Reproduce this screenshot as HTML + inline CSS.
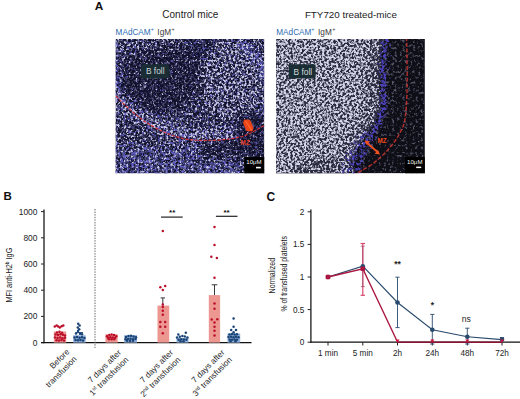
<!DOCTYPE html>
<html><head><meta charset="utf-8"><style>
html,body{margin:0;padding:0;background:#fff;width:520px;height:399px;overflow:hidden}
svg{display:block}
text{font-family:"Liberation Sans",sans-serif}
</style></head><body>
<svg width="520" height="399" viewBox="0 0 520 399">
<defs>
  <filter id="spkL" filterUnits="userSpaceOnUse" x="100" y="25" width="180" height="165" color-interpolation-filters="sRGB">
    <feGaussianBlur in="SourceGraphic" stdDeviation="3" result="d"/>
    <feTurbulence type="fractalNoise" baseFrequency="0.45" numOctaves="3" seed="3" result="n"/>
    <feColorMatrix in="n" type="matrix" values="1 0 0 0 0  1 0 0 0 0  1 0 0 0 0  0 0 0 0 1" result="ng"/>
    <feComposite in="ng" in2="d" operator="arithmetic" k1="0" k2="5" k3="5" k4="-5" result="c"/>
    <feColorMatrix in="c" type="matrix" values="0 0 0 0 0.78  0 0 0 0 0.78  0 0 0 0 0.9  1 0 0 0 0"/>
    <feGaussianBlur stdDeviation="0.4"/>
  </filter>
  <filter id="spkLB" filterUnits="userSpaceOnUse" x="100" y="25" width="180" height="165" color-interpolation-filters="sRGB">
    <feGaussianBlur in="SourceGraphic" stdDeviation="3" result="d"/>
    <feTurbulence type="fractalNoise" baseFrequency="0.38" numOctaves="3" seed="11" result="n"/>
    <feColorMatrix in="n" type="matrix" values="1 0 0 0 0  1 0 0 0 0  1 0 0 0 0  0 0 0 0 1" result="ng"/>
    <feComposite in="ng" in2="d" operator="arithmetic" k1="0" k2="4" k3="4" k4="-4" result="c"/>
    <feColorMatrix in="c" type="matrix" values="0 0 0 0 0.36  0 0 0 0 0.35  0 0 0 0 0.74  1 0 0 0 0"/>
    <feGaussianBlur stdDeviation="0.4"/>
  </filter>
  <filter id="spkLM" filterUnits="userSpaceOnUse" x="100" y="25" width="180" height="165" color-interpolation-filters="sRGB">
    <feGaussianBlur in="SourceGraphic" stdDeviation="3" result="d"/>
    <feTurbulence type="fractalNoise" baseFrequency="0.4" numOctaves="3" seed="21" result="n"/>
    <feColorMatrix in="n" type="matrix" values="1 0 0 0 0  1 0 0 0 0  1 0 0 0 0  0 0 0 0 1" result="ng"/>
    <feComposite in="ng" in2="d" operator="arithmetic" k1="0" k2="4" k3="4" k4="-4" result="c"/>
    <feColorMatrix in="c" type="matrix" values="0 0 0 0 0.3  0 0 0 0 0.3  0 0 0 0 0.46  1 0 0 0 0"/>
    <feGaussianBlur stdDeviation="0.4"/>
  </filter>
  <filter id="spkR" filterUnits="userSpaceOnUse" x="260" y="25" width="180" height="165" color-interpolation-filters="sRGB">
    <feGaussianBlur in="SourceGraphic" stdDeviation="2.5" result="d"/>
    <feTurbulence type="fractalNoise" baseFrequency="0.44" numOctaves="3" seed="9" result="n"/>
    <feColorMatrix in="n" type="matrix" values="1 0 0 0 0  1 0 0 0 0  1 0 0 0 0  0 0 0 0 1" result="ng"/>
    <feComposite in="ng" in2="d" operator="arithmetic" k1="0" k2="4.5" k3="4.5" k4="-4.5" result="c"/>
    <feColorMatrix in="c" type="matrix" values="0 0 0 0 0.84  0 0 0 0 0.84  0 0 0 0 0.92  1 0 0 0 0"/>
    <feGaussianBlur stdDeviation="0.4"/>
  </filter>
  <filter id="spkRB" filterUnits="userSpaceOnUse" x="260" y="25" width="180" height="165" color-interpolation-filters="sRGB">
    <feGaussianBlur in="SourceGraphic" stdDeviation="2.4" result="d"/>
    <feTurbulence type="fractalNoise" baseFrequency="0.38" numOctaves="3" seed="5" result="n"/>
    <feColorMatrix in="n" type="matrix" values="1 0 0 0 0  1 0 0 0 0  1 0 0 0 0  0 0 0 0 1" result="ng"/>
    <feComposite in="ng" in2="d" operator="arithmetic" k1="0" k2="4" k3="4" k4="-4" result="c"/>
    <feColorMatrix in="c" type="matrix" values="0 0 0 0 0.3  0 0 0 0 0.26  0 0 0 0 0.74  1 0 0 0 0"/>
    <feGaussianBlur stdDeviation="0.4"/>
  </filter>
  <filter id="spkRD" filterUnits="userSpaceOnUse" x="260" y="25" width="180" height="165" color-interpolation-filters="sRGB">
    <feGaussianBlur in="SourceGraphic" stdDeviation="4" result="d"/>
    <feTurbulence type="fractalNoise" baseFrequency="0.38" numOctaves="3" seed="17" result="n"/>
    <feColorMatrix in="n" type="matrix" values="1 0 0 0 0  1 0 0 0 0  1 0 0 0 0  0 0 0 0 1" result="ng"/>
    <feComposite in="ng" in2="d" operator="arithmetic" k1="0" k2="4" k3="4" k4="-4" result="c"/>
    <feColorMatrix in="c" type="matrix" values="0 0 0 0 0.34  0 0 0 0 0.34  0 0 0 0 0.42  1 0 0 0 0"/>
    <feGaussianBlur stdDeviation="0.4"/>
  </filter>
  <filter id="blr3" filterUnits="userSpaceOnUse" x="90" y="20" width="360" height="175"><feGaussianBlur stdDeviation="3"/></filter>
  <filter id="blr2" filterUnits="userSpaceOnUse" x="90" y="20" width="360" height="175"><feGaussianBlur stdDeviation="2.2"/></filter>
  <clipPath id="cl"><rect x="115.6" y="39.1" width="148.6" height="134.2"/></clipPath>
  <clipPath id="cr"><rect x="276.1" y="39.1" width="148.7" height="134.2"/></clipPath>
</defs>
<text x="94.8" y="10.3" font-size="11.8" font-weight="bold" fill="#111">A</text>
<text x="162.3" y="18.3" font-size="10" fill="#222">Control mice</text>
<text x="304.9" y="18.3" font-size="9.8" fill="#222">FTY720 treated-mice</text>
<text x="115.6" y="34.5" font-size="8.2" fill="#2e6cb2">MAdCAM<tspan dy="-3.3" font-size="5.4">+</tspan><tspan dy="3.3" dx="1.3" fill="#3a3a3a"> IgM</tspan><tspan dy="-3.3" dx="0.4" font-size="5.4" fill="#3a3a3a">+</tspan></text>
<text x="276.3" y="34.5" font-size="8.2" fill="#2e6cb2">MAdCAM<tspan dy="-3.3" font-size="5.4">+</tspan><tspan dy="3.3" dx="1.3" fill="#3a3a3a"> IgM</tspan><tspan dy="-3.3" dx="0.4" font-size="5.4" fill="#3a3a3a">+</tspan></text>
<g clip-path="url(#cl)">
  <rect x="115.5" y="39" width="149" height="134.5" fill="#10102a"/>
  <g filter="url(#spkLM)"><rect x="100" y="25" width="180" height="165" fill="rgb(52%,52%,52%)"/></g>
  <!-- blue patches -->
  <g filter="url(#spkLB)">
    <rect x="100" y="25" width="180" height="165" fill="rgb(47%,47%,47%)"/>
    <path d="M110,92 C130,112 150,128 185,135 C205,138 228,136 242,132 C252,128 260,120 270,110" fill="none" stroke="rgb(56%,56%,56%)" stroke-width="16"/>
    <path d="M232,36 C248,45 260,58 268,80" fill="none" stroke="rgb(68%,68%,68%)" stroke-width="9"/>
    <path d="M110,40 L118,100" fill="none" stroke="rgb(60%,60%,60%)" stroke-width="14"/>
    <rect x="100" y="146" width="140" height="40" fill="rgb(59%,59%,59%)"/>
    <ellipse cx="165" cy="78" rx="42" ry="32" fill="rgb(38%,38%,38%)"/>
    <rect x="200" y="141" width="70" height="18" fill="rgb(40%,40%,40%)"/>
    <rect x="238" y="116" width="30" height="42" fill="rgb(40%,40%,40%)"/>
  </g>
  <!-- speckle density map -->
  <g filter="url(#spkL)">
    <rect x="100" y="25" width="180" height="165" fill="rgb(48%,48%,48%)"/>
    <ellipse cx="160" cy="82" rx="44" ry="32" fill="rgb(40%,40%,40%)"/>
    <ellipse cx="200" cy="50" rx="17" ry="13" fill="rgb(38%,38%,38%)"/>
    <rect x="100" y="30" width="75" height="14" fill="rgb(52%,52%,52%)"/>
    <ellipse cx="232" cy="80" rx="32" ry="40" fill="rgb(54%,54%,54%)"/>
    <path d="M112,90 C130,110 150,126 185,133 C205,136 228,134 242,130" fill="none" stroke="rgb(57%,57%,57%)" stroke-width="9"/>
    <rect x="200" y="141" width="70" height="18" fill="rgb(42%,42%,42%)"/>
    <rect x="236" y="114" width="32" height="44" fill="rgb(35%,35%,35%)"/>
    <rect x="100" y="150" width="100" height="40" fill="rgb(47%,47%,47%)"/>
  </g>
  <path d="M116,96 C135,116 155,132 185,139 C205,142 228,140 242,136.5 C250,134 258,129 265,125" fill="none" stroke="#e03434" stroke-width="1.2" stroke-dasharray="3.2 1.4" opacity="0.9"/>
  <rect x="244.2" y="157" width="21" height="17" fill="#000"/>
  <text x="246.3" y="163.7" font-size="6.1" fill="#f4f4f4">10μM</text>
  <rect x="256" y="166.8" width="4.8" height="1.6" fill="#fff"/>
  <rect x="141" y="64.2" width="28.2" height="14.3" rx="2.5" fill="#1a2c34"/>
  <text x="145.9" y="74.3" font-size="8.4" fill="#cfd9dc">B foll</text>
  <text transform="translate(240.6,145) scale(0.8,1)" font-size="8" font-weight="bold" fill="#e63a1e">MZ</text>
  <path d="M244,119.5 L250,119.8 L253.5,128 L252.5,131.5 L246.5,131 L243,123 Z" fill="#ec4418"/>
  <path d="M245.5,121 L251.5,130" stroke="#ff6a30" stroke-width="1.2"/>
</g>
<g clip-path="url(#cr)">
  <rect x="276" y="39" width="149" height="134.5" fill="#0e0e16"/>
  <!-- dim speckles in dark region -->
  <g filter="url(#spkRD)">
    <rect x="260" y="25" width="180" height="165" fill="rgb(47%,47%,47%)"/>
    <path d="M386,30 C384,60 381,80 384,100 C385,114 375,130 367,140 C359,152 353,164 349,190" fill="none" stroke="rgb(50%,50%,50%)" stroke-width="26"/>
    <path d="M392,132 C386,146 376,160 362,178" fill="none" stroke="rgb(36%,36%,36%)" stroke-width="10"/>
  </g>
  <path d="M270,35 H383 C381,60 378,80 381,100 C382,112 372,128 364,138 C356,150 350,162 345,180 H270 Z" fill="#2a2a3e"/>
  <!-- blue band -->
  <g filter="url(#spkRB)">
    <rect x="260" y="25" width="180" height="165" fill="rgb(20%,20%,20%)"/>
    <path d="M386,30 C384,60 381,80 384,100 C385,114 375,130 367,140 C359,152 353,164 349,190" fill="none" stroke="rgb(70%,70%,70%)" stroke-width="8"/>
    <path d="M370,132 C360,148 351,162 346,190" fill="none" stroke="rgb(56%,56%,56%)" stroke-width="22"/>
  </g>
  <g filter="url(#spkR)">
    <rect x="260" y="25" width="180" height="165" fill="rgb(20%,20%,20%)"/>
    <path d="M260,25 H383 C381,60 378,80 381,100 C382,112 372,128 364,138 C355,150 347,162 341,190 H260 Z" fill="rgb(62%,62%,62%)"/>
    <path d="M375,25 C373,60 370,80 373,100 C374,112 364,128 356,138 C348,150 342,162 337,190" fill="none" stroke="rgb(57%,57%,57%)" stroke-width="14"/>
    <ellipse cx="322" cy="178" rx="34" ry="20" fill="rgb(55%,55%,55%)"/>
  </g>
  <path d="M406.5,37 C407.5,70 408,108 404,124 C398,140 386,154 371,165 C363,170 357,173 353,176" fill="none" stroke="#c83430" stroke-width="1.4" stroke-dasharray="4 1.8" opacity="0.9"/>
  <rect x="405" y="157" width="21" height="17" fill="#000"/>
  <text x="407.1" y="163.5" font-size="6.1" fill="#f4f4f4">10μM</text>
  <rect x="416.2" y="166.6" width="5" height="1.5" fill="#fff"/>
  <rect x="288.6" y="64.2" width="27" height="14.2" rx="2.5" fill="#1a2c34"/>
  <text x="293.5" y="75" font-size="8.4" fill="#cfd9dc">B foll</text>
  <text transform="translate(377.6,142.6) scale(0.85,1)" font-size="7.4" font-weight="bold" fill="#f04a1c">MZ</text>
  <path d="M367,143 L377.5,152" stroke="#f0501e" stroke-width="1.8"/>
  <path d="M364.5,140.5 l5.4,0.8 l-3.4,3.8 z M380,154.5 l-5.4,-0.8 l3.4,-3.8 z" fill="#f0501e"/>
</g>
<text x="3.6" y="200.4" font-size="11.5" font-weight="bold" fill="#111">B</text>
<line x1="44.0" y1="209.5" x2="44.0" y2="343.2" stroke="#111" stroke-width="1.25"/>
<line x1="41" y1="342.60" x2="44.0" y2="342.60" stroke="#222" stroke-width="1"/>
<text x="37.4" y="345.55" font-size="8.4" text-anchor="end" fill="#222">0</text>
<line x1="41" y1="316.40" x2="44.0" y2="316.40" stroke="#222" stroke-width="1"/>
<text x="37.4" y="319.35" font-size="8.4" text-anchor="end" fill="#222">200</text>
<line x1="41" y1="290.20" x2="44.0" y2="290.20" stroke="#222" stroke-width="1"/>
<text x="37.4" y="293.15" font-size="8.4" text-anchor="end" fill="#222">400</text>
<line x1="41" y1="264.00" x2="44.0" y2="264.00" stroke="#222" stroke-width="1"/>
<text x="37.4" y="266.95" font-size="8.4" text-anchor="end" fill="#222">600</text>
<line x1="41" y1="237.80" x2="44.0" y2="237.80" stroke="#222" stroke-width="1"/>
<text x="37.4" y="240.75" font-size="8.4" text-anchor="end" fill="#222">800</text>
<line x1="41" y1="211.60" x2="44.0" y2="211.60" stroke="#222" stroke-width="1"/>
<text x="37.4" y="214.55" font-size="8.4" text-anchor="end" fill="#222">1000</text>
<line x1="41" y1="342.6" x2="251.5" y2="342.6" stroke="#111" stroke-width="1.25"/>
<line x1="95" y1="209" x2="95" y2="348" stroke="#666" stroke-width="1" stroke-dasharray="1.4 1.2"/>
<text transform="translate(12.3,275.1) rotate(-90) scale(0.785,1)" font-size="9.4" text-anchor="middle" fill="#1a1a1a">MFI anti-H2<tspan dy="-3" font-size="6">b</tspan><tspan dy="3"> IgG</tspan></text>
<rect x="53.8" y="331.5" width="12.400000000000006" height="11.10" fill="#ec9790"/>
<circle cx="54.80" cy="326.60" r="1.25" fill="#bc0f2c"/>
<circle cx="56.60" cy="325.60" r="1.25" fill="#bc0f2c"/>
<circle cx="58.20" cy="326.40" r="1.25" fill="#bc0f2c"/>
<circle cx="59.80" cy="327.60" r="1.25" fill="#bc0f2c"/>
<circle cx="61.60" cy="326.30" r="1.25" fill="#bc0f2c"/>
<circle cx="63.30" cy="325.50" r="1.25" fill="#bc0f2c"/>
<circle cx="57.00" cy="332.50" r="1.25" fill="#bc0f2c"/>
<circle cx="59.50" cy="331.80" r="1.25" fill="#bc0f2c"/>
<circle cx="62.00" cy="332.80" r="1.25" fill="#bc0f2c"/>
<circle cx="55.50" cy="334.50" r="1.25" fill="#bc0f2c"/>
<circle cx="58.00" cy="335.00" r="1.25" fill="#bc0f2c"/>
<circle cx="60.50" cy="334.20" r="1.25" fill="#bc0f2c"/>
<circle cx="63.00" cy="334.80" r="1.25" fill="#bc0f2c"/>
<circle cx="65.00" cy="335.50" r="1.25" fill="#bc0f2c"/>
<circle cx="55.00" cy="337.50" r="1.25" fill="#bc0f2c"/>
<circle cx="57.50" cy="338.00" r="1.25" fill="#bc0f2c"/>
<circle cx="60.00" cy="337.40" r="1.25" fill="#bc0f2c"/>
<circle cx="62.50" cy="338.20" r="1.25" fill="#bc0f2c"/>
<circle cx="65.00" cy="337.80" r="1.25" fill="#bc0f2c"/>
<circle cx="56.50" cy="340.20" r="1.25" fill="#bc0f2c"/>
<circle cx="59.00" cy="340.50" r="1.25" fill="#bc0f2c"/>
<circle cx="61.50" cy="340.00" r="1.25" fill="#bc0f2c"/>
<circle cx="64.00" cy="340.40" r="1.25" fill="#bc0f2c"/>
<rect x="73.2" y="335.3" width="12.399999999999991" height="7.30" fill="#8eaedb"/>
<circle cx="78.20" cy="323.80" r="1.25" fill="#1b4476"/>
<circle cx="79.60" cy="325.50" r="1.25" fill="#1b4476"/>
<circle cx="77.80" cy="327.50" r="1.25" fill="#1b4476"/>
<circle cx="79.20" cy="329.30" r="1.25" fill="#1b4476"/>
<circle cx="78.00" cy="331.00" r="1.25" fill="#1b4476"/>
<circle cx="76.00" cy="333.50" r="1.25" fill="#1b4476"/>
<circle cx="80.00" cy="333.80" r="1.25" fill="#1b4476"/>
<circle cx="82.00" cy="334.20" r="1.25" fill="#1b4476"/>
<circle cx="74.50" cy="337.50" r="1.25" fill="#1b4476"/>
<circle cx="77.00" cy="337.00" r="1.25" fill="#1b4476"/>
<circle cx="79.50" cy="337.80" r="1.25" fill="#1b4476"/>
<circle cx="82.00" cy="337.20" r="1.25" fill="#1b4476"/>
<circle cx="84.50" cy="338.00" r="1.25" fill="#1b4476"/>
<circle cx="75.50" cy="340.00" r="1.25" fill="#1b4476"/>
<circle cx="78.00" cy="340.30" r="1.25" fill="#1b4476"/>
<circle cx="80.50" cy="340.00" r="1.25" fill="#1b4476"/>
<circle cx="83.00" cy="340.40" r="1.25" fill="#1b4476"/>
<line x1="75.5" y1="332.6" x2="83" y2="332.6" stroke="#1b4476" stroke-width="1"/>
<rect x="105.4" y="334.2" width="12.299999999999997" height="8.40" fill="#ec9790"/>
<circle cx="107.00" cy="336.30" r="1.25" fill="#bc0f2c"/>
<circle cx="109.30" cy="335.00" r="1.25" fill="#bc0f2c"/>
<circle cx="111.60" cy="334.60" r="1.25" fill="#bc0f2c"/>
<circle cx="114.00" cy="335.00" r="1.25" fill="#bc0f2c"/>
<circle cx="116.30" cy="336.30" r="1.25" fill="#bc0f2c"/>
<circle cx="108.00" cy="337.80" r="1.25" fill="#bc0f2c"/>
<circle cx="110.40" cy="337.20" r="1.25" fill="#bc0f2c"/>
<circle cx="112.80" cy="337.40" r="1.25" fill="#bc0f2c"/>
<circle cx="115.20" cy="337.80" r="1.25" fill="#bc0f2c"/>
<circle cx="109.00" cy="339.30" r="1.25" fill="#bc0f2c"/>
<circle cx="111.60" cy="339.20" r="1.25" fill="#bc0f2c"/>
<circle cx="114.20" cy="339.30" r="1.25" fill="#bc0f2c"/>
<rect x="124.2" y="335.2" width="12.799999999999997" height="7.40" fill="#8eaedb"/>
<circle cx="126.00" cy="337.00" r="1.25" fill="#1b4476"/>
<circle cx="128.50" cy="336.00" r="1.25" fill="#1b4476"/>
<circle cx="131.00" cy="335.80" r="1.25" fill="#1b4476"/>
<circle cx="133.50" cy="336.40" r="1.25" fill="#1b4476"/>
<circle cx="136.00" cy="337.30" r="1.25" fill="#1b4476"/>
<circle cx="125.50" cy="339.20" r="1.25" fill="#1b4476"/>
<circle cx="128.00" cy="339.00" r="1.25" fill="#1b4476"/>
<circle cx="130.50" cy="338.80" r="1.25" fill="#1b4476"/>
<circle cx="133.00" cy="339.30" r="1.25" fill="#1b4476"/>
<circle cx="135.50" cy="339.00" r="1.25" fill="#1b4476"/>
<circle cx="127.00" cy="340.80" r="1.25" fill="#1b4476"/>
<circle cx="130.00" cy="341.00" r="1.25" fill="#1b4476"/>
<circle cx="133.00" cy="340.80" r="1.25" fill="#1b4476"/>
<rect x="157.5" y="305.6" width="11.699999999999989" height="37.00" fill="#ec9790"/>
<line x1="162.8" y1="305.6" x2="162.8" y2="297.9" stroke="#222" stroke-width="0.9"/>
<line x1="160.60000000000002" y1="297.9" x2="165.0" y2="297.9" stroke="#222" stroke-width="0.9"/>
<circle cx="162.80" cy="304.40" r="1.25" fill="#bc0f2c"/>
<circle cx="162.80" cy="230.90" r="1.25" fill="#bc0f2c"/>
<circle cx="160.30" cy="287.30" r="1.25" fill="#bc0f2c"/>
<circle cx="165.20" cy="285.90" r="1.25" fill="#bc0f2c"/>
<circle cx="162.80" cy="290.10" r="1.25" fill="#bc0f2c"/>
<circle cx="162.80" cy="307.00" r="1.25" fill="#bc0f2c"/>
<circle cx="162.80" cy="310.80" r="1.25" fill="#bc0f2c"/>
<circle cx="162.80" cy="314.80" r="1.25" fill="#bc0f2c"/>
<circle cx="160.30" cy="322.00" r="1.25" fill="#bc0f2c"/>
<circle cx="165.20" cy="322.00" r="1.25" fill="#bc0f2c"/>
<circle cx="160.30" cy="326.70" r="1.25" fill="#bc0f2c"/>
<circle cx="165.20" cy="326.70" r="1.25" fill="#bc0f2c"/>
<circle cx="162.80" cy="333.30" r="1.25" fill="#bc0f2c"/>
<rect x="176.5" y="338" width="12.0" height="4.60" fill="#8eaedb"/>
<circle cx="178.30" cy="334.50" r="1.25" fill="#1b4476"/>
<circle cx="185.80" cy="332.80" r="1.25" fill="#1b4476"/>
<circle cx="177.00" cy="337.60" r="1.25" fill="#1b4476"/>
<circle cx="179.80" cy="336.80" r="1.25" fill="#1b4476"/>
<circle cx="182.40" cy="336.00" r="1.25" fill="#1b4476"/>
<circle cx="184.80" cy="336.60" r="1.25" fill="#1b4476"/>
<circle cx="187.40" cy="337.60" r="1.25" fill="#1b4476"/>
<circle cx="178.60" cy="339.80" r="1.25" fill="#1b4476"/>
<circle cx="181.20" cy="339.20" r="1.25" fill="#1b4476"/>
<circle cx="183.80" cy="339.40" r="1.25" fill="#1b4476"/>
<circle cx="186.40" cy="339.80" r="1.25" fill="#1b4476"/>
<circle cx="180.50" cy="341.20" r="1.25" fill="#1b4476"/>
<circle cx="183.50" cy="341.20" r="1.25" fill="#1b4476"/>
<line x1="161" y1="217.1" x2="182.7" y2="217.1" stroke="#222" stroke-width="1.2"/>
<text x="172.2" y="214.6" font-size="8" text-anchor="middle" font-weight="bold" fill="#111">**</text>
<rect x="208.8" y="295.1" width="11.299999999999983" height="47.50" fill="#ec9790"/>
<line x1="214.5" y1="295.1" x2="214.5" y2="284.8" stroke="#222" stroke-width="0.9"/>
<line x1="211.7" y1="284.8" x2="217.3" y2="284.8" stroke="#222" stroke-width="0.9"/>
<circle cx="214.50" cy="226.90" r="1.25" fill="#bc0f2c"/>
<circle cx="214.50" cy="245.10" r="1.25" fill="#bc0f2c"/>
<circle cx="211.30" cy="256.80" r="1.25" fill="#bc0f2c"/>
<circle cx="216.90" cy="257.90" r="1.25" fill="#bc0f2c"/>
<circle cx="214.50" cy="277.80" r="1.25" fill="#bc0f2c"/>
<circle cx="214.50" cy="303.60" r="1.25" fill="#bc0f2c"/>
<circle cx="214.50" cy="308.80" r="1.25" fill="#bc0f2c"/>
<circle cx="211.70" cy="319.50" r="1.25" fill="#bc0f2c"/>
<circle cx="217.30" cy="319.20" r="1.25" fill="#bc0f2c"/>
<circle cx="214.50" cy="322.40" r="1.25" fill="#bc0f2c"/>
<circle cx="214.50" cy="326.70" r="1.25" fill="#bc0f2c"/>
<circle cx="214.50" cy="330.80" r="1.25" fill="#bc0f2c"/>
<circle cx="214.50" cy="335.50" r="1.25" fill="#bc0f2c"/>
<rect x="227.5" y="333.5" width="12.699999999999989" height="9.10" fill="#8eaedb"/>
<circle cx="233.60" cy="318.60" r="1.25" fill="#1b4476"/>
<circle cx="233.60" cy="326.70" r="1.25" fill="#1b4476"/>
<circle cx="231.20" cy="330.00" r="1.25" fill="#1b4476"/>
<circle cx="236.00" cy="330.00" r="1.25" fill="#1b4476"/>
<circle cx="233.60" cy="332.30" r="1.25" fill="#1b4476"/>
<circle cx="229.50" cy="334.50" r="1.25" fill="#1b4476"/>
<circle cx="232.00" cy="334.00" r="1.25" fill="#1b4476"/>
<circle cx="234.50" cy="334.50" r="1.25" fill="#1b4476"/>
<circle cx="237.00" cy="334.20" r="1.25" fill="#1b4476"/>
<circle cx="228.50" cy="337.00" r="1.25" fill="#1b4476"/>
<circle cx="231.00" cy="336.80" r="1.25" fill="#1b4476"/>
<circle cx="233.50" cy="337.20" r="1.25" fill="#1b4476"/>
<circle cx="236.00" cy="336.80" r="1.25" fill="#1b4476"/>
<circle cx="238.50" cy="337.30" r="1.25" fill="#1b4476"/>
<circle cx="229.50" cy="339.60" r="1.25" fill="#1b4476"/>
<circle cx="232.00" cy="339.80" r="1.25" fill="#1b4476"/>
<circle cx="234.50" cy="339.50" r="1.25" fill="#1b4476"/>
<circle cx="237.00" cy="339.80" r="1.25" fill="#1b4476"/>
<circle cx="230.50" cy="341.30" r="1.25" fill="#1b4476"/>
<circle cx="235.50" cy="341.30" r="1.25" fill="#1b4476"/>
<line x1="215.9" y1="216.3" x2="237.5" y2="216.3" stroke="#222" stroke-width="1.2"/>
<text x="226.6" y="214.6" font-size="8" text-anchor="middle" font-weight="bold" fill="#111">**</text>
<g transform="translate(70,352.3) rotate(-45)"><text x="0" y="0" font-size="8.2" text-anchor="end" fill="#222">Before</text><text x="0" y="10.3" font-size="8.2" text-anchor="end" fill="#222">transfusion</text></g>
<g transform="translate(121.6,353) rotate(-45)"><text x="0" y="0" font-size="8.2" text-anchor="end" fill="#222">7 days after</text><text x="0" y="10.3" font-size="8.2" text-anchor="end" fill="#222">1<tspan dy="-3" font-size="5.2">st</tspan><tspan dy="3"> transfusion</tspan></text></g>
<g transform="translate(173.6,353) rotate(-45)"><text x="0" y="0" font-size="8.2" text-anchor="end" fill="#222">7 days after</text><text x="0" y="10.3" font-size="8.2" text-anchor="end" fill="#222">2<tspan dy="-3" font-size="5.2">nd</tspan><tspan dy="3"> transfusion</tspan></text></g>
<g transform="translate(225.1,353) rotate(-45)"><text x="0" y="0" font-size="8.2" text-anchor="end" fill="#222">7 days after</text><text x="0" y="10.3" font-size="8.2" text-anchor="end" fill="#222">3<tspan dy="-3" font-size="5.2">rd</tspan><tspan dy="3"> transfusion</tspan></text></g>
<text x="266.6" y="200.5" font-size="12" font-weight="bold" fill="#111">C</text>
<line x1="310.9" y1="209.5" x2="310.9" y2="342.7" stroke="#111" stroke-width="1.25"/>
<line x1="307.6" y1="342.20" x2="310.9" y2="342.20" stroke="#222" stroke-width="1"/>
<text x="304.4" y="345.10" font-size="8.2" text-anchor="end" fill="#222">0</text>
<line x1="307.6" y1="309.60" x2="310.9" y2="309.60" stroke="#222" stroke-width="1"/>
<text x="304.4" y="312.50" font-size="8.2" text-anchor="end" fill="#222">0.5</text>
<line x1="307.6" y1="277.00" x2="310.9" y2="277.00" stroke="#222" stroke-width="1"/>
<text x="304.4" y="279.90" font-size="8.2" text-anchor="end" fill="#222">1</text>
<line x1="307.6" y1="244.40" x2="310.9" y2="244.40" stroke="#222" stroke-width="1"/>
<text x="304.4" y="247.30" font-size="8.2" text-anchor="end" fill="#222">1.5</text>
<line x1="307.6" y1="211.80" x2="310.9" y2="211.80" stroke="#222" stroke-width="1"/>
<text x="304.4" y="214.70" font-size="8.2" text-anchor="end" fill="#222">2</text>
<line x1="310.4" y1="342.2" x2="520" y2="342.2" stroke="#111" stroke-width="1.25"/>
<line x1="328" y1="342.2" x2="328" y2="345.5" stroke="#222" stroke-width="1"/>
<text x="328" y="356.3" font-size="8.2" text-anchor="middle" fill="#222">1 min</text>
<line x1="362.8" y1="342.2" x2="362.8" y2="345.5" stroke="#222" stroke-width="1"/>
<text x="362.8" y="356.3" font-size="8.2" text-anchor="middle" fill="#222">5 min</text>
<line x1="397.5" y1="342.2" x2="397.5" y2="345.5" stroke="#222" stroke-width="1"/>
<text x="397.5" y="356.3" font-size="8.2" text-anchor="middle" fill="#222">2h</text>
<line x1="432.3" y1="342.2" x2="432.3" y2="345.5" stroke="#222" stroke-width="1"/>
<text x="432.3" y="356.3" font-size="8.2" text-anchor="middle" fill="#222">24h</text>
<line x1="467.3" y1="342.2" x2="467.3" y2="345.5" stroke="#222" stroke-width="1"/>
<text x="467.3" y="356.3" font-size="8.2" text-anchor="middle" fill="#222">48h</text>
<line x1="502" y1="342.2" x2="502" y2="345.5" stroke="#222" stroke-width="1"/>
<text x="502" y="356.3" font-size="8.2" text-anchor="middle" fill="#222">72h</text>
<text transform="translate(274.8,275.6) rotate(-90) scale(0.75,1)" font-size="9.4" text-anchor="middle" fill="#1a1a1a">Normalized</text>
<text transform="translate(287.3,273.8) rotate(-90) scale(0.735,1)" font-size="9.4" text-anchor="middle" fill="#1a1a1a">% of transfused platelets</text>
<line x1="362.8" y1="268.8" x2="362.8" y2="243.5" stroke="#da4a70" stroke-width="1.2"/>
<line x1="360.6" y1="243.5" x2="365.0" y2="243.5" stroke="#da4a70" stroke-width="1.2"/>
<line x1="362.8" y1="268.8" x2="362.8" y2="295.3" stroke="#da4a70" stroke-width="1.2"/>
<line x1="360.6" y1="295.3" x2="365.0" y2="295.3" stroke="#da4a70" stroke-width="1.2"/>
<line x1="362.8" y1="266.2" x2="362.8" y2="246.2" stroke="#a04060" stroke-width="0.7"/>
<line x1="360.8" y1="246.2" x2="364.8" y2="246.2" stroke="#a04060" stroke-width="0.7"/>
<line x1="362.8" y1="266.2" x2="362.8" y2="286.6" stroke="#a04060" stroke-width="0.7"/>
<line x1="360.8" y1="286.6" x2="364.8" y2="286.6" stroke="#a04060" stroke-width="0.7"/>
<line x1="397.5" y1="302.5" x2="397.5" y2="277.2" stroke="#284a6c" stroke-width="0.9"/>
<line x1="395.4" y1="277.2" x2="399.6" y2="277.2" stroke="#284a6c" stroke-width="0.9"/>
<line x1="397.5" y1="302.5" x2="397.5" y2="327.6" stroke="#284a6c" stroke-width="0.9"/>
<line x1="395.4" y1="327.6" x2="399.6" y2="327.6" stroke="#284a6c" stroke-width="0.9"/>
<line x1="432.3" y1="329.7" x2="432.3" y2="314.4" stroke="#284a6c" stroke-width="0.9"/>
<line x1="430.2" y1="314.4" x2="434.40000000000003" y2="314.4" stroke="#284a6c" stroke-width="0.9"/>
<line x1="432.3" y1="329.7" x2="432.3" y2="344" stroke="#284a6c" stroke-width="0.9"/>
<line x1="430.2" y1="344" x2="434.40000000000003" y2="344" stroke="#284a6c" stroke-width="0.9"/>
<line x1="467.3" y1="336.7" x2="467.3" y2="328.2" stroke="#284a6c" stroke-width="0.9"/>
<line x1="465.2" y1="328.2" x2="469.40000000000003" y2="328.2" stroke="#284a6c" stroke-width="0.9"/>
<line x1="467.3" y1="336.7" x2="467.3" y2="344" stroke="#284a6c" stroke-width="0.9"/>
<line x1="465.2" y1="344" x2="469.40000000000003" y2="344" stroke="#284a6c" stroke-width="0.9"/>
<line x1="502" y1="339.6" x2="502" y2="337.5" stroke="#284a6c" stroke-width="0.9"/>
<line x1="499.9" y1="337.5" x2="504.1" y2="337.5" stroke="#284a6c" stroke-width="0.9"/>
<polyline points="328,277 362.8,266.2 397.5,302.5 432.3,329.7 467.3,336.7 502,339.6" fill="none" stroke="#284a6c" stroke-width="1.1"/>
<polyline points="328,277 362.8,268.8 397.5,342.0" fill="none" stroke="#aa1640" stroke-width="1.4"/>
<line x1="397.5" y1="342.3" x2="502" y2="342.3" stroke="#8c1232" stroke-width="1.5"/>
<circle cx="328" cy="277" r="2.3" fill="#284a6c"/>
<circle cx="362.8" cy="266.2" r="2.3" fill="#284a6c"/>
<circle cx="397.5" cy="302.5" r="2.3" fill="#284a6c"/>
<circle cx="432.3" cy="329.7" r="2.3" fill="#284a6c"/>
<circle cx="467.3" cy="336.7" r="2.3" fill="#284a6c"/>
<circle cx="502" cy="339.6" r="2.3" fill="#284a6c"/>
<rect x="325.7" y="274.7" width="4.6" height="4.6" rx="0.8" fill="#aa1640"/>
<rect x="360.5" y="266.5" width="4.6" height="4.6" rx="0.8" fill="#aa1640"/>
<path d="M395.5,339.6 L399.5,339.6 L397.5,342.8 Z" fill="#d0103a"/>
<path d="M430.3,339.6 L434.3,339.6 L432.3,342.8 Z" fill="#d0103a"/>
<path d="M465.3,339.6 L469.3,339.6 L467.3,342.8 Z" fill="#d0103a"/>
<path d="M500,339.6 L504,339.6 L502,342.8 Z" fill="#d0103a"/>
<text x="397.5" y="267" font-size="8.5" text-anchor="middle" font-weight="bold" fill="#222">**</text>
<text x="432.3" y="308" font-size="8.5" text-anchor="middle" font-weight="bold" fill="#222">*</text>
<text x="466.3" y="322.2" font-size="8.6" text-anchor="middle" fill="#222">ns</text>
</svg>
</body></html>
